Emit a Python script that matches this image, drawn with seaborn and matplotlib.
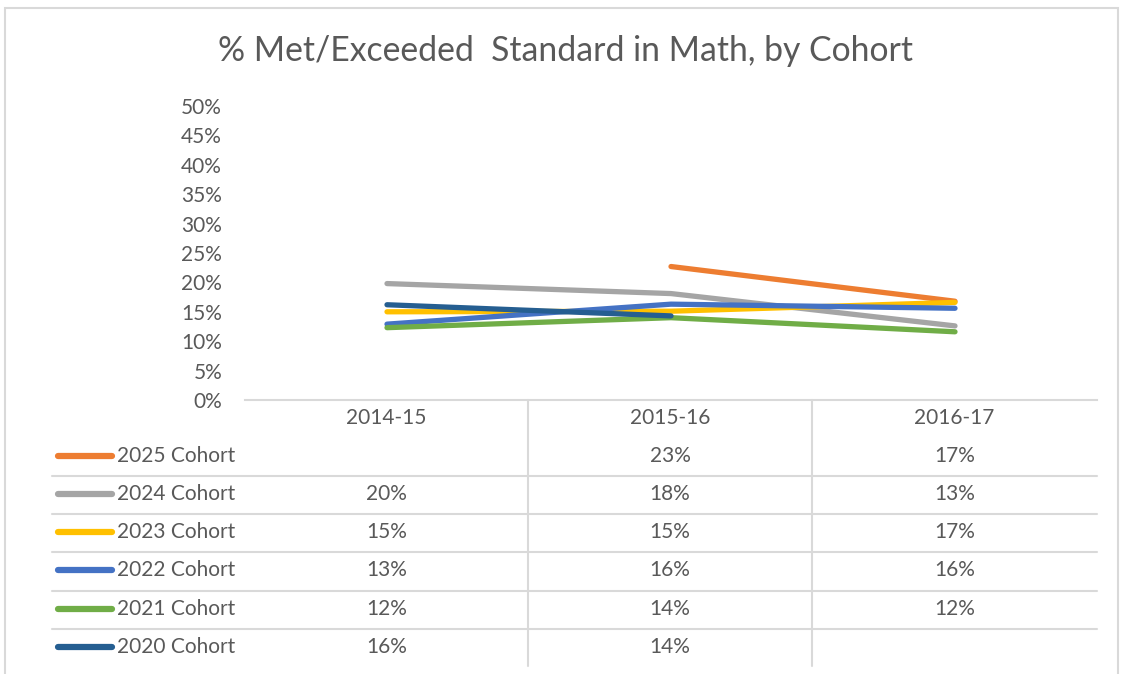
"""Recreate the Excel-style cohort line chart with its data table."""

import matplotlib

matplotlib.use("Agg")

import matplotlib.pyplot as plt
import numpy as np
import pandas as pd
import seaborn as sns
from matplotlib.lines import Line2D
from matplotlib.patches import Rectangle

YEARS = ["2014-15", "2015-16", "2016-17"]
COHORTS = ["2025 Cohort", "2024 Cohort", "2023 Cohort", "2022 Cohort", "2021 Cohort", "2020 Cohort"]
COLORS = ["#ED7D31", "#A5A5A5", "#FFC000", "#4472C4", "#70AD47", "#255E91"]

# values (percent); NaN = no data for that year
COHORT_2025 = [np.nan, 22.7, 16.8]
COHORT_2024 = [19.8, 18.1, 12.6]
COHORT_2023 = [15.0, 15.1, 16.6]
COHORT_2022 = [12.9, 16.3, 15.6]
COHORT_2021 = [12.3, 14.0, 11.6]
COHORT_2020 = [16.2, 14.3, np.nan]

TEXT = "#595959"
GRID = "#D9D9D9"
W, H = 1122, 674


def fx(px):
    return px / W


def fy(py):
    return 1 - py / H


def main():
    series = [COHORT_2025, COHORT_2024, COHORT_2023, COHORT_2022, COHORT_2021, COHORT_2020]
    rows = []
    for name, vals in zip(COHORTS, series):
        for i, (yr, v) in enumerate(zip(YEARS, vals)):
            rows.append({"cohort": name, "year": yr, "x": i, "pct": v})
    df = pd.DataFrame(rows)

    sns.set_theme(style="white")
    plt.rcParams["font.family"] = ["Lato", "DejaVu Sans"]

    fig = plt.figure(figsize=(W / 100, H / 100), dpi=100)
    ax = fig.add_axes([fx(245), fy(400), fx(1097) - fx(245), fy(106) - fy(400)])

    sns.lineplot(
        data=df.dropna(),
        x="x",
        y="pct",
        hue="cohort",
        hue_order=COHORTS,
        palette=COLORS,
        linewidth=3.8,
        legend=False,
        ax=ax,
    )
    for ln in ax.lines:
        ln.set_solid_capstyle("round")

    ax.set_xlim(-0.5, len(YEARS) - 0.5)
    ax.set_ylim(0, 50)
    ax.set_yticks(range(0, 51, 5))
    ax.set_yticklabels([f"{t}%" for t in range(0, 51, 5)], color=TEXT, fontsize=15)
    ax.tick_params(axis="y", length=0, pad=16.5)
    ax.set_xticks([])
    ax.set_xlabel("")
    ax.set_ylabel("")
    for side in ["top", "right", "left"]:
        ax.spines[side].set_visible(False)
    ax.spines["bottom"].set_color(GRID)
    ax.spines["bottom"].set_linewidth(1.5)

    fig.text(fx(565), fy(51), "% Met/Exceeded  Standard in Math, by Cohort",
             ha="center", va="center", fontsize=24.3, color=TEXT)

    # data table below the axis
    col_edges = [245, 528, 812, 1097]
    col_centers = [(a + b) / 2 for a, b in zip(col_edges[:-1], col_edges[1:])]
    for cx, yr in zip(col_centers, YEARS):
        fig.text(fx(cx), fy(418), yr, ha="center", va="center", fontsize=15, color=TEXT)

    row_y = [456, 494, 532, 570, 609, 647]
    for i, (name, vals, col) in enumerate(zip(COHORTS, series, COLORS)):
        y = row_y[i]
        fig.add_artist(Line2D([fx(58), fx(112)], [fy(y), fy(y)], color=col, linewidth=4.5,
                              solid_capstyle="round"))
        fig.text(fx(117), fy(y), name, ha="left", va="center", fontsize=15, color=TEXT)
        for cx, v in zip(col_centers, vals):
            if not np.isnan(v):
                fig.text(fx(cx), fy(y), f"{v:.0f}%", ha="center", va="center",
                         fontsize=15, color=TEXT)
        if i < len(row_y) - 1:
            sep = (row_y[i] + row_y[i + 1]) / 2 + 1
            fig.add_artist(Line2D([fx(52), fx(1097)], [fy(sep), fy(sep)], color=GRID, linewidth=1.5))

    for xe in col_edges[1:3]:
        fig.add_artist(Line2D([fx(xe), fx(xe)], [fy(400), fy(666)], color=GRID, linewidth=1.5))

    # chart frame
    fig.add_artist(Rectangle((fx(5), fy(680)), fx(1118) - fx(5), fy(8) - fy(680),
                             fill=False, edgecolor=GRID, linewidth=1.5))

    fig.savefig("out.png", dpi=100, facecolor="white")
    plt.close(fig)


if __name__ == "__main__":
    main()
